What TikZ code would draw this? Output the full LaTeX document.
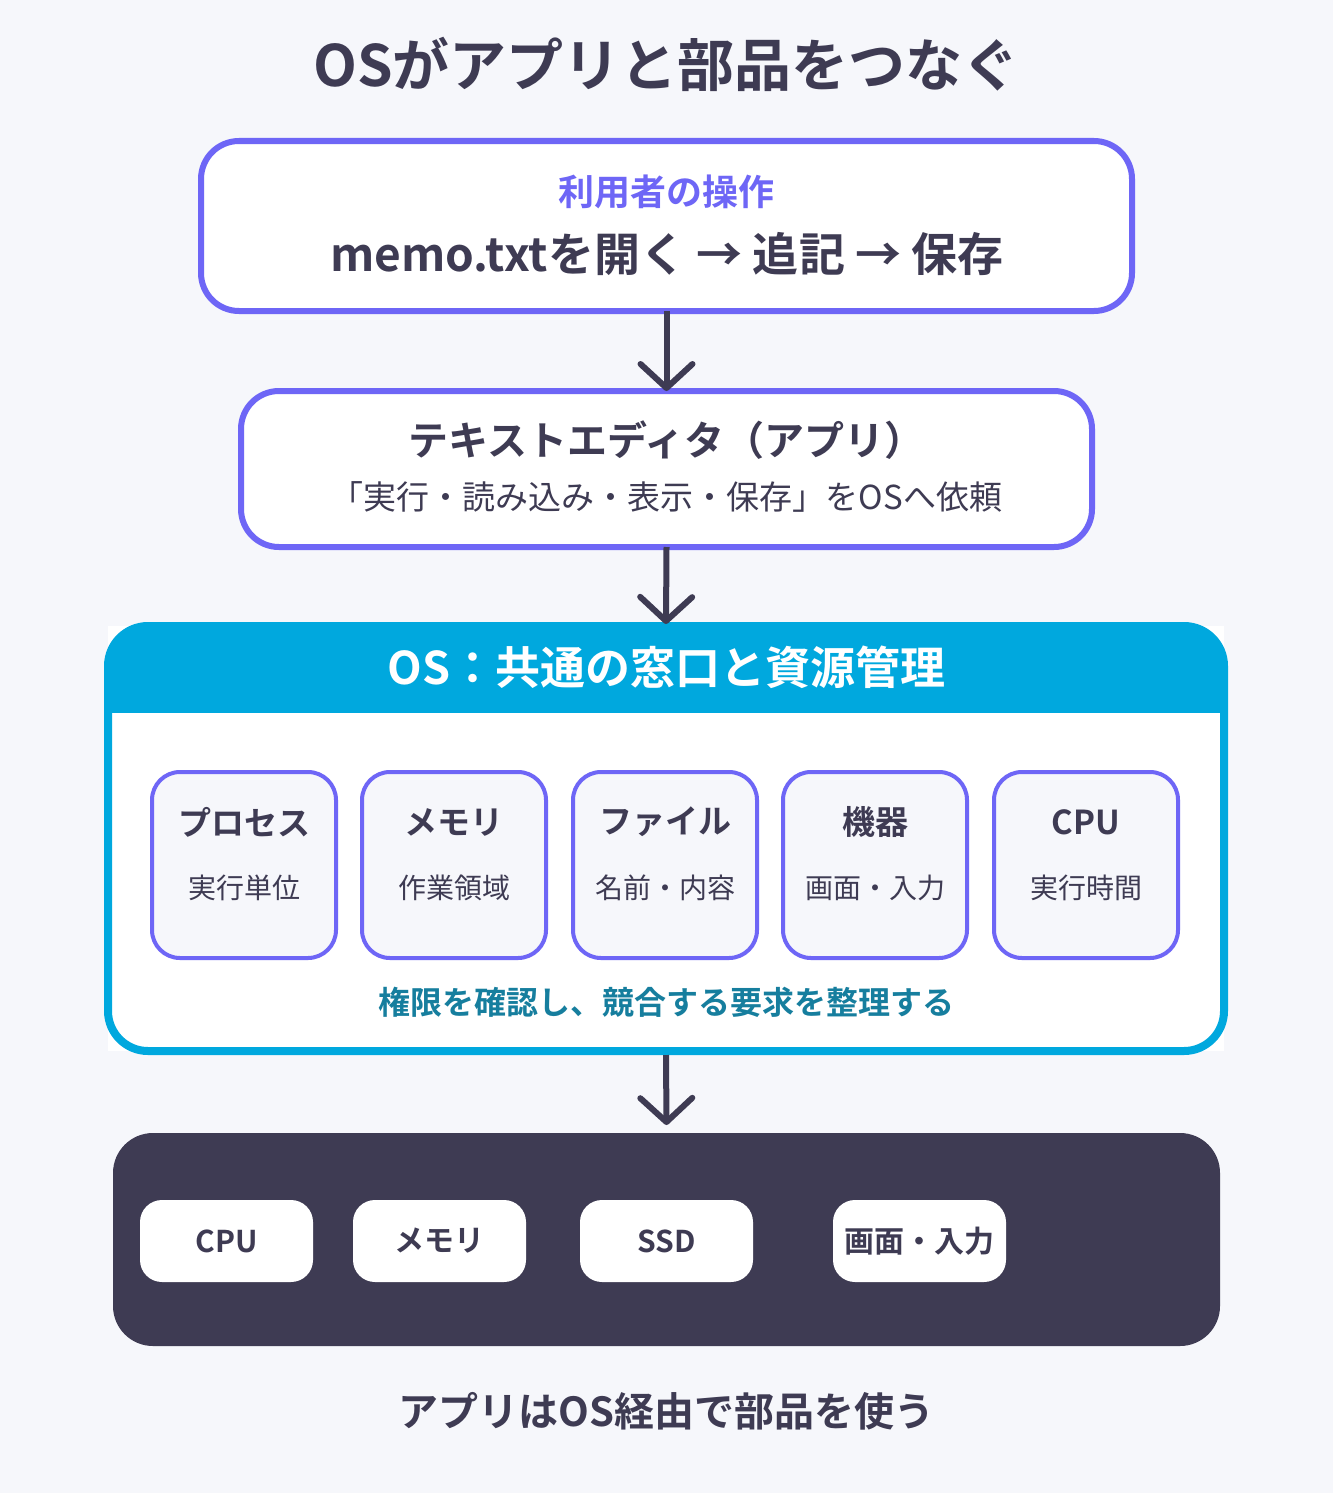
\documentclass[tikz,border=0pt]{standalone}
\usepackage{fontspec}
\setmainfont{Noto Sans CJK JP}[BoldFont={Noto Sans CJK JP Bold}]
\usetikzlibrary{arrows.meta}
\definecolor{bg}{HTML}{F6F7FB}
\definecolor{vio}{HTML}{6E66F6}
\definecolor{ink}{HTML}{3E3B53}
\definecolor{sky}{HTML}{00A8DE}
\definecolor{teal}{HTML}{167E9E}
\newcommand{\fsz}[1]{\fontsize{#1}{#1}\selectfont}
\begin{document}
\begin{tikzpicture}[x=1pt,y=-1pt,
  txt/.style={inner sep=0pt, anchor=center, text=ink},
  ubox/.style={draw=vio, line width=6pt, fill=white, rounded corners=38pt, outer sep=0pt, inner sep=0pt},
  osbox/.style={fill=white, outer sep=0pt, inner sep=0pt},
  subbox/.style={draw=vio, line width=4pt, fill=bg, rounded corners=28pt, outer sep=0pt, inner sep=0pt, minimum width=184pt, minimum height=186pt},
  hwbox/.style={fill=ink, rounded corners=40pt, outer sep=0pt, inner sep=0pt},
  partbox/.style={fill=white, rounded corners=22pt, outer sep=0pt, inner sep=0pt, minimum width=173pt, minimum height=82pt, text=ink, font=\bfseries\fsz{30}},
  conn/.style={draw=ink, line width=6pt, -{Straight Barb[length=24pt,width=52pt,line width=6pt,round]}}
]
\useasboundingbox (0,0) rectangle (1333,1493);
\fill[bg] (0,0) rectangle (1333,1493);

% title
\node[txt, font=\bfseries\fsz{57}] (title) at (666.5,64) {OSがアプリと部品をつなぐ};

% user box
\node[ubox, minimum width=931pt, minimum height=170pt] (user) at (666.5,226) {};
\node[txt, text=vio, font=\bfseries\fsz{36}] (userhead) at (666.5,192) {利用者の操作};
\node[txt, font=\bfseries\fsz{46}] (userops) at (667,254) {memo.txtを開く → 追記 → 保存};

% app box
\node[ubox, minimum width=851pt, minimum height=156pt] (app) at (666.5,469) {};
\node[txt, font=\bfseries\fsz{40}] (apphead) at (666.5,440) {テキストエディタ（アプリ）};
\node[txt, font=\fsz{33}] (appsub) at (666.5,497) {「実行・読み込み・表示・保存」をOSへ依頼};

% OS box
\node[osbox, minimum width=1116pt, minimum height=425pt] (os) at (666,838.5) {};
\begin{scope}
  \clip[rounded corners=40pt] (os.north west) rectangle (os.south east);
  \fill[sky] (100,600) rectangle (1240,713);
\end{scope}
\draw[sky, line width=8pt, rounded corners=40pt] (os.north west) rectangle (os.south east);
\node[txt, text=white, font=\bfseries\fsz{45}] (oshead) at (666.5,667) {OS：共通の窓口と資源管理};

\node[subbox] (s1) at (244,865) {};
\node[subbox] (s2) at (454,865) {};
\node[subbox] (s3) at (665,865) {};
\node[subbox] (s4) at (875,865) {};
\node[subbox] (s5) at (1086,865) {};
\foreach \n/\t/\s in {s1/プロセス/実行単位, s2/メモリ/作業領域, s3/ファイル/名前・内容, s4/機器/画面・入力, s5/CPU/実行時間}{
  \node[txt, font=\bfseries\fsz{33}] (\n t) at ([yshift=43pt]\n.center) {\t};
  \node[txt, font=\fsz{28}] (\n s) at ([yshift=-23pt]\n.center) {\s};
}
\node[txt, text=teal, font=\bfseries\fsz{32}] (osnote) at (666.5,1002) {権限を確認し、競合する要求を整理する};

% hardware
\node[hwbox, minimum width=1107pt, minimum height=213pt] (hw) at (666.5,1239.5) {};
\node[partbox] (h1) at (226.5,1241) {CPU};
\node[partbox] (h2) at (439.5,1241) {メモリ};
\node[partbox] (h3) at (666.5,1241) {SSD};
\node[partbox] (h4) at (919.5,1241) {画面・入力};

\node[txt, font=\bfseries\fsz{40}] (caption) at (666.5,1411) {アプリはOS経由で部品を使う};

% connectors
\draw[conn] (user.south) -- (app.north);
\draw[conn] (app.south) -- ([yshift=2pt]os.north);
\draw[conn] ([yshift=-4pt]os.south) -- ([yshift=8pt]hw.north);
\end{tikzpicture}
\end{document}
